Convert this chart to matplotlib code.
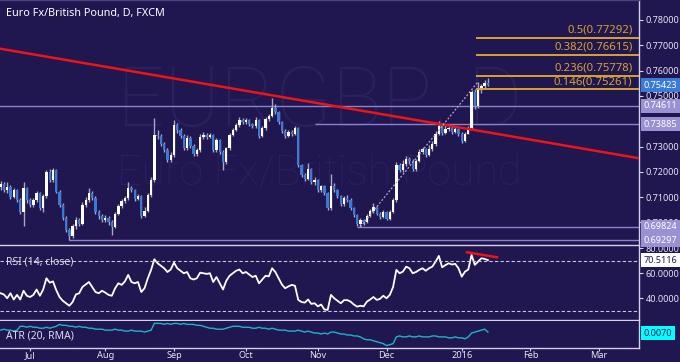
import matplotlib
matplotlib.use("Agg")
import matplotlib.pyplot as plt
import numpy as np
import pandas as pd

plt.rcParams["font.family"] = ["Noto Sans", "DejaVu Sans"]

BG = "#201650"
WATER = "#29205d"
UP = "#ffffff"
DOWN = "#3a7ad8"
WICK = "#a8a8c4"
SPINE = "#d2d2e8"
TXT = "#e6e6f2"
LEVEL = "#8c82cc"
FIB = "#d6a234"

# daily bars, 18 Jun 2015 .. 13 Jan 2016
dates = pd.bdate_range("2015-06-18", periods=150)
first_open = 0.7140
closes = [
    0.7152, 0.7128, 0.7140, 0.7101, 0.7128, 0.7089, 0.7042, 0.7136, 0.7089, 0.7069,
    0.7089, 0.7117, 0.7057, 0.7105, 0.7200, 0.7168, 0.7207, 0.7121, 0.7069, 0.7018,
    0.6971, 0.6947, 0.6986, 0.7010, 0.6994, 0.7069, 0.7089, 0.7117, 0.7097, 0.7042,
    0.7026, 0.7010, 0.7018, 0.7002, 0.6982, 0.7034, 0.7065, 0.7085, 0.7097, 0.7136,
    0.7128, 0.7093, 0.7105, 0.7026, 0.7045, 0.7108, 0.7168, 0.7346, 0.7342, 0.7310,
    0.7287, 0.7247, 0.7267, 0.7385, 0.7366, 0.7342, 0.7294, 0.7334, 0.7302, 0.7271,
    0.7287, 0.7338, 0.7346, 0.7338, 0.7346, 0.7287, 0.7326, 0.7279, 0.7239, 0.7294,
    0.7346, 0.7366, 0.7385, 0.7405, 0.7397, 0.7405, 0.7389, 0.7381, 0.7405, 0.7342,
    0.7373, 0.7409, 0.7421, 0.7452, 0.7437, 0.7397, 0.7362, 0.7342, 0.7358, 0.7350,
    0.7373, 0.7227, 0.7188, 0.7172, 0.7211, 0.7160, 0.7168, 0.7128, 0.7144, 0.7117,
    0.7057, 0.7144, 0.7128, 0.7105, 0.7073, 0.7097, 0.7089, 0.7057, 0.7030, 0.6994,
    0.7010, 0.7002, 0.7026, 0.7046, 0.7061, 0.7034, 0.7022, 0.7042, 0.7014, 0.7042,
    0.7089, 0.7227, 0.7207, 0.7231, 0.7251, 0.7243, 0.7211, 0.7243, 0.7279, 0.7290,
    0.7267, 0.7290, 0.7310, 0.7350, 0.7381, 0.7354, 0.7369, 0.7373, 0.7358, 0.7369,
    0.7350, 0.7322, 0.7350, 0.7372, 0.7516, 0.7460, 0.7523, 0.7539, 0.7551, 0.75423,
]
highs = [
    0.7165, 0.7160, 0.7158, 0.7150, 0.7136, 0.7132, 0.7098, 0.7158, 0.7140, 0.7098,
    0.7095, 0.7124, 0.7122, 0.7112, 0.7207, 0.7212, 0.7215, 0.7212, 0.7130, 0.7075,
    0.7025, 0.6980, 0.6995, 0.7020, 0.7018, 0.7080, 0.7100, 0.7135, 0.7125, 0.7105,
    0.7050, 0.7034, 0.7030, 0.7025, 0.7008, 0.7040, 0.7072, 0.7093, 0.7105, 0.7160,
    0.7145, 0.7132, 0.7112, 0.7110, 0.7060, 0.7118, 0.7180, 0.7413, 0.7365, 0.7350,
    0.7318, 0.7296, 0.7280, 0.7405, 0.7395, 0.7372, 0.7350, 0.7345, 0.7340, 0.7310,
    0.7295, 0.7350, 0.7358, 0.7355, 0.7352, 0.7350, 0.7335, 0.7330, 0.7285, 0.7300,
    0.7355, 0.7375, 0.7395, 0.7415, 0.7413, 0.7412, 0.7410, 0.7395, 0.7418, 0.7410,
    0.7380, 0.7415, 0.7430, 0.7492, 0.7470, 0.7442, 0.7402, 0.7368, 0.7365, 0.7364,
    0.7380, 0.7378, 0.7232, 0.7196, 0.7235, 0.7216, 0.7180, 0.7172, 0.7150, 0.7150,
    0.7122, 0.7192, 0.7155, 0.7133, 0.7110, 0.7103, 0.7108, 0.7095, 0.7062, 0.7035,
    0.7016, 0.7015, 0.7035, 0.7055, 0.7078, 0.7066, 0.7040, 0.7050, 0.7046, 0.7050,
    0.7098, 0.7240, 0.7235, 0.7245, 0.7262, 0.7258, 0.7250, 0.7252, 0.7290, 0.7298,
    0.7295, 0.7305, 0.7322, 0.7362, 0.7400, 0.7388, 0.7385, 0.7382, 0.7380, 0.7378,
    0.7375, 0.7356, 0.7358, 0.7380, 0.7525, 0.7528, 0.7556, 0.7548, 0.7562, 0.7571,
]
lows = [
    0.7130, 0.7120, 0.7118, 0.7092, 0.7095, 0.7080, 0.7035, 0.6985, 0.7078, 0.7060,
    0.7062, 0.7080, 0.7048, 0.7040, 0.7098, 0.7160, 0.7160, 0.7115, 0.7060, 0.7010,
    0.6962, 0.6930, 0.6940, 0.6975, 0.6985, 0.6990, 0.7060, 0.7080, 0.7090, 0.7035,
    0.7015, 0.7000, 0.7002, 0.6992, 0.6952, 0.6978, 0.7028, 0.7058, 0.7078, 0.7090,
    0.7120, 0.7085, 0.7088, 0.7018, 0.7020, 0.7040, 0.7100, 0.7160, 0.7330, 0.7302,
    0.7278, 0.7238, 0.7240, 0.7260, 0.7355, 0.7333, 0.7285, 0.7288, 0.7295, 0.7262,
    0.7262, 0.7280, 0.7330, 0.7330, 0.7332, 0.7280, 0.7280, 0.7270, 0.7207, 0.7232,
    0.7288, 0.7340, 0.7360, 0.7378, 0.7388, 0.7390, 0.7380, 0.7372, 0.7375, 0.7335,
    0.7336, 0.7366, 0.7400, 0.7415, 0.7428, 0.7388, 0.7355, 0.7335, 0.7336, 0.7340,
    0.7345, 0.7220, 0.7180, 0.7165, 0.7168, 0.7152, 0.7150, 0.7120, 0.7122, 0.7110,
    0.7050, 0.7050, 0.7120, 0.7098, 0.7065, 0.7066, 0.7080, 0.7050, 0.7022, 0.6985,
    0.6982, 0.6990, 0.6996, 0.7020, 0.7038, 0.7028, 0.7015, 0.7016, 0.7008, 0.7010,
    0.7036, 0.7082, 0.7198, 0.7200, 0.7225, 0.7232, 0.7204, 0.7205, 0.7238, 0.7272,
    0.7260, 0.7262, 0.7284, 0.7304, 0.7344, 0.7345, 0.7348, 0.7360, 0.7350, 0.7352,
    0.7342, 0.7315, 0.7316, 0.7350, 0.7365, 0.7450, 0.7452, 0.7510, 0.7530, 0.7538,
]
rsi = [
    44, 43, 40, 44, 39, 42.7, 39, 46, 42, 41,
    42.7, 47, 42, 47, 56, 52.5, 53.5, 46.5, 41, 38,
    36, 34, 37, 43, 44, 49, 51, 53, 49, 45,
    44, 46, 44.5, 42.7, 42, 48, 52, 50.7, 53.5, 58.7,
    53, 52, 53, 45, 48, 56, 62.7, 71.2, 68, 66,
    64, 61, 63, 68.5, 64, 62, 60, 61, 56, 55,
    56, 60.5, 60, 59.5, 60, 53, 57, 52, 47, 54,
    58, 60, 62, 63, 60, 61, 59, 57, 58, 52,
    55, 58, 57.5, 64, 61, 56, 51, 48, 49.5, 50.7,
    50, 38.7, 37, 36.5, 39, 35.5, 36, 33.5, 35, 31,
    30.7, 42.7, 40, 38, 36, 38.5, 38.5, 37.3, 35, 33.3,
    34, 33.5, 37.3, 39, 41, 38.7, 39.5, 42, 40, 42.7,
    49, 62.7, 60, 61.3, 65.3, 64, 60, 61, 62.7, 64,
    62, 64, 65.3, 69.3, 73.9, 64.8, 66.5, 68, 67, 67.5,
    64, 57.3, 61.3, 63, 74.7, 66.7, 69.3, 72, 71.5, 70.5116,
]
atr = [
    0.0073, 0.0074, 0.0073, 0.0073, 0.0072, 0.0073, 0.0077, 0.0077, 0.0076, 0.0077,
    0.0076, 0.0076, 0.0075, 0.0075, 0.0076, 0.0075, 0.0076, 0.0077, 0.0079, 0.0078,
    0.0078, 0.0077, 0.0077, 0.0076, 0.0077, 0.0076, 0.0076, 0.0075, 0.0075, 0.0074,
    0.0074, 0.0074, 0.0073, 0.0073, 0.0073, 0.0074, 0.0073, 0.0073, 0.0072, 0.0072,
    0.0073, 0.0072, 0.0072, 0.0072, 0.0071, 0.0072, 0.0073, 0.0080, 0.0080, 0.0080,
    0.0079, 0.0080, 0.0079, 0.0080, 0.0080, 0.0079, 0.0080, 0.0079, 0.0079, 0.0079,
    0.0078, 0.0078, 0.0077, 0.0076, 0.0075, 0.0075, 0.0074, 0.0074, 0.0074, 0.0075,
    0.0076, 0.0077, 0.0077, 0.0077, 0.0076, 0.0076, 0.0076, 0.0075, 0.0075, 0.0076,
    0.0075, 0.0075, 0.0074, 0.0075, 0.0074, 0.0073, 0.0073, 0.0073, 0.0072, 0.0072,
    0.0072, 0.0073, 0.0072, 0.0071, 0.0072, 0.0071, 0.0070, 0.0070, 0.0069, 0.0070,
    0.0069, 0.0071, 0.0071, 0.0070, 0.0069, 0.0069, 0.0068, 0.0068, 0.0067, 0.0067,
    0.0066, 0.0064, 0.0063, 0.0063, 0.0062, 0.0061, 0.0060, 0.0059, 0.0057, 0.0058,
    0.0059, 0.0066, 0.0067, 0.0066, 0.0066, 0.0067, 0.0066, 0.0066, 0.0067, 0.0066,
    0.0066, 0.0066, 0.0067, 0.0067, 0.0066, 0.0066, 0.0066, 0.0065, 0.0065, 0.0066,
    0.0065, 0.0065, 0.0064, 0.0066, 0.0070, 0.0071, 0.0072, 0.0073, 0.0074, 0.0071,
]

# drawn studies / levels
trend_x = [-1.0, 196.0]
trend_y = [0.76885, 0.72520]
levels = [0.74611, 0.73885, 0.69824, 0.69297]
level_start = [-1, 96, 109, 21]
fib_ratios = ["0.5", "0.382", "0.236", "0.146"]
fib_prices = [0.77292, 0.76615, 0.75778, 0.75261]
fib_start = 145.4
swing_x = [110, 146]
swing_y = [0.69824, 0.7556]
rsi_trend_x = [142.6, 151.8]
rsi_trend_y = [76.8, 72.8]

x = np.arange(len(closes))
closes = np.array(closes)
opens = np.concatenate([[first_open], closes[:-1]])
highs = np.array(highs)
lows = np.array(lows)
x_max = 195.2

fig = plt.figure(figsize=(6.8, 3.62), dpi=100, facecolor=BG)
ax = fig.add_axes([0, 0.3232, 0.9397, 0.6768], facecolor=BG)
ax_rsi = fig.add_axes([0, 0.1160, 0.9397, 0.2044], facecolor=BG, sharex=ax)
ax_atr = fig.add_axes([0, 0.0387, 0.9397, 0.0746], facecolor=BG, sharex=ax)
ax.set_zorder(3)

for a in (ax, ax_rsi, ax_atr):
    for s in a.spines.values():
        s.set_color(SPINE)
        s.set_linewidth(1.0)
    a.spines["left"].set_visible(False)
    a.yaxis.tick_right()
    a.tick_params(axis="y", colors=SPINE, labelcolor=TXT, labelsize=6.5, length=3, pad=2)
    a.tick_params(axis="x", bottom=False, labelbottom=False)
ax.spines["top"].set_color("#4a4280")
ax_rsi.spines["top"].set_visible(False)
ax_atr.spines["top"].set_visible(False)

# watermark
ax.text(0.5, 0.49, "EURGBP, D", transform=ax.transAxes, ha="center", va="baseline",
        fontsize=60, color=WATER, family=["Roboto", "DejaVu Sans"], fontweight="light",
        zorder=0)
ax.text(0.5, 0.245, "Euro Fx/British Pound", transform=ax.transAxes, ha="center",
        va="baseline", fontsize=31, color=WATER, family=["Roboto", "DejaVu Sans"],
        fontweight="light", zorder=0)

# candles
up = closes >= opens
ax.vlines(x, lows, highs, color=WICK, lw=1, zorder=2)
body = np.where(np.abs(closes - opens) < 0.0002, 0.0002, closes - opens)
ax.bar(x[up], body[up], bottom=opens[up], width=0.72, color=UP, zorder=3)
ax.bar(x[~up], body[~up], bottom=opens[~up], width=0.72, color=DOWN, zorder=3)

# levels and lines
for lv, st in zip(levels, level_start):
    ax.hlines(lv, st, x_max + 1, color=LEVEL, lw=1, zorder=1)
ax.plot(trend_x, trend_y, color="#ee1414", lw=1.8, zorder=4)
ax.plot(swing_x, swing_y, color="#b0b0c8", lw=0.9, ls=(0, (1.5, 1.5)), zorder=4)
for r, p in zip(fib_ratios, fib_prices):
    ax.hlines(p, fib_start, x_max + 1, color=FIB, lw=1.4, zorder=4)
    ax.text(193.2, p + 0.0009, f"{r}({p:.5f})", ha="right", va="bottom",
            fontsize=8.2, color=FIB, zorder=5)

ax.set_xlim(-0.2, x_max)
ax.set_ylim(0.6911, 0.7879)
# 0.74 sits under the 0.73885 tag in the original, so it is left out
ax.set_yticks([0.70, 0.71, 0.72, 0.73, 0.75, 0.76, 0.77, 0.78])
ax.yaxis.set_major_formatter(plt.FormatStrFormatter("%.5f"))
ax.text(0.0094, 0.943, "Euro Fx/British Pound, D, FXCM", transform=ax.transAxes,
        ha="left", va="center", fontsize=7.8, fontweight="bold", color="#ffffff")


def tag(a, y, text, fc, tc):
    a.text(1.0075, y, text, transform=a.get_yaxis_transform(), ha="left", va="center",
           fontsize=6.5, color=tc, clip_on=False, zorder=10,
           bbox=dict(boxstyle="square,pad=0.28", fc=fc, ec="none"))


tag(ax, closes[-1], f"{closes[-1]:.5f}", "#3a7ad8", "#ffffff")
for lv in levels:
    tag(ax, lv, f"{lv:.5f}", "#9a90d4", "#ffffff")

# RSI
ax_rsi.plot(x, rsi, color="#ffffff", lw=1.3)
for lv in (30, 70):
    ax_rsi.axhline(lv, color="#c8c8dc", lw=0.8, ls=(0, (3, 2)))
ax_rsi.plot(rsi_trend_x, rsi_trend_y, color="#ee1414", lw=1.8)
ax_rsi.set_ylim(22.6, 81.8)
ax_rsi.set_yticks([40, 60, 80])
ax_rsi.yaxis.set_major_formatter(plt.FormatStrFormatter("%.4f"))
ax_rsi.text(0.0094, 0.784, "RSI (14, close)", transform=ax_rsi.transAxes,
            ha="left", va="center", fontsize=7.5, color="#dcdcec")
tag(ax_rsi, rsi[-1], f"{rsi[-1]:.4f}", "#ffffff", "#201650")

# ATR
ax_atr.plot(x, atr, color="#1eb4c6", lw=1.0)
ax_atr.set_ylim(0.00545, 0.00825)
ax_atr.set_yticks([])
ax_atr.text(0.0094, 0.444, "ATR (20, RMA)", transform=ax_atr.transAxes,
            ha="left", va="center", fontsize=7.5, color="#dcdcec")
tag(ax_atr, 0.0070, "0.0070", "#00ffff", "#201650")

# month ticks
full = pd.bdate_range("2015-06-18", "2016-03-31")
month_pos, month_lab = [], []
for i, d in enumerate(full):
    if i > 0 and d.month != full[i - 1].month:
        month_pos.append(i)
        month_lab.append("2016" if d.month == 1 else d.strftime("%b"))
ax_atr.set_xticks(month_pos)
ax_atr.set_xticklabels(month_lab)
ax_atr.tick_params(axis="x", bottom=True, labelbottom=True, colors=SPINE,
                   labelcolor=TXT, labelsize=6.6, length=2, pad=0.5)
for t in ax_atr.get_xticklabels():
    t.set_fontweight("bold")

fig.savefig("out.png", dpi=100, facecolor=BG)
